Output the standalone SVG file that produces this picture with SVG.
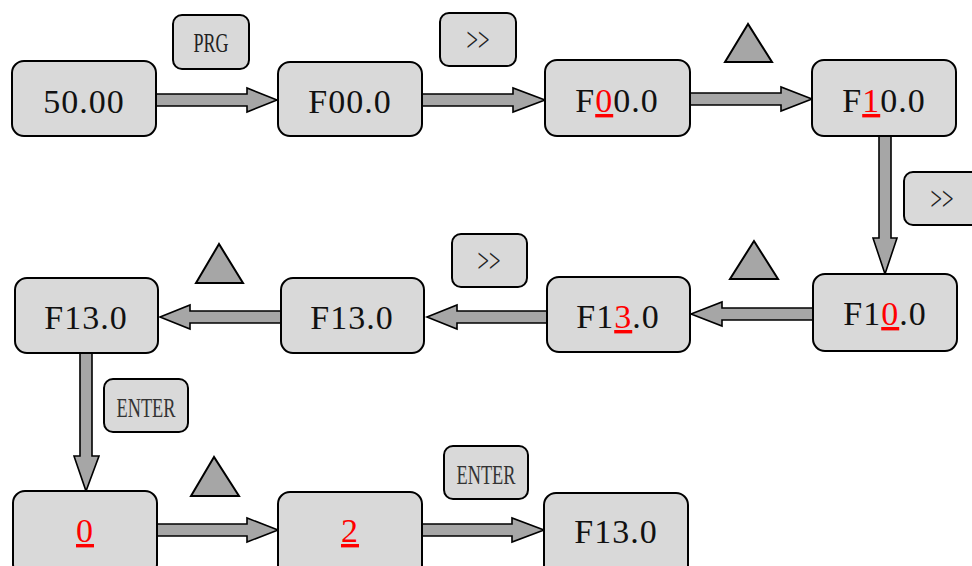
<svg xmlns="http://www.w3.org/2000/svg" width="972" height="566" viewBox="0 0 972 566">
  <style>
    .node rect { fill: #d9d9d9; stroke: #000; stroke-width: 2; }
    .key rect { fill: #d9d9d9; stroke: #000; stroke-width: 2; }
    .val { font-family: "Liberation Serif", "DejaVu Serif", serif; font-size: 34px; letter-spacing: 1px; fill: #111; text-anchor: middle; }
    .hot { fill: #ff0000; text-decoration: underline; }
    .keytxt { font-family: "Liberation Serif", "DejaVu Serif", serif; font-size: 27px; fill: #222; text-anchor: middle; }
    .chev { font-size: 34px; }
    .enter { font-size: 28px; fill: #333; }
    .arrow { fill: #a6a6a6; stroke: #000; stroke-width: 1.6; stroke-linejoin: miter; }
    .up { fill: #a6a6a6; stroke: #000; stroke-width: 2; }
  </style>

  <!-- connectors -->
  <g id="connectors">
    <polygon class="arrow" points="156,94 247,94 247,88 277,100 247,112 247,106 156,106"/>
    <polygon class="arrow" points="422,94 513,94 513,88 545,100 513,112 513,106 422,106"/>
    <polygon class="arrow" points="690,93 781,93 781,87 812,99 781,111 781,105 690,105"/>
    <polygon class="arrow" points="879,136 891,136 891,238 897,238 885,274 873,238 879,238"/>
    <polygon class="arrow" points="813,308 722,308 722,302 691,314 722,326 722,320 813,320"/>
    <polygon class="arrow" points="547,311 457,311 457,305 427,317 457,329 457,323 547,323"/>
    <polygon class="arrow" points="281,311 190,311 190,305 160,317 190,329 190,323 281,323"/>
    <polygon class="arrow" points="80,353 92,353 92,456 99,456 86,491 74,456 80,456"/>
    <polygon class="arrow" points="157,524 247,524 247,518 278,530 247,542 247,536 157,536"/>
    <polygon class="arrow" points="422,524 512,524 512,518 544,530 512,542 512,536 422,536"/>
  </g>

  <!-- key presses -->
  <g id="key-prg" class="key">
    <rect x="173" y="15" width="76" height="54" rx="9"/>
    <text class="keytxt" x="211" y="52" textLength="35" lengthAdjust="spacingAndGlyphs">PRG</text>
  </g>
  <g id="key-shift-1" class="key">
    <rect x="440" y="13" width="76" height="53" rx="9"/>
    <text class="keytxt chev" x="478" y="51" textLength="23" lengthAdjust="spacingAndGlyphs">&gt;&gt;</text>
  </g>
  <g id="key-shift-2" class="key">
    <rect x="904" y="172" width="80" height="53" rx="9"/>
    <text class="keytxt chev" x="942" y="210" textLength="23" lengthAdjust="spacingAndGlyphs">&gt;&gt;</text>
  </g>
  <g id="key-shift-3" class="key">
    <rect x="452" y="234" width="75" height="53" rx="9"/>
    <text class="keytxt chev" x="489" y="272" textLength="23" lengthAdjust="spacingAndGlyphs">&gt;&gt;</text>
  </g>
  <g id="key-enter-1" class="key">
    <rect x="104" y="379" width="84" height="53" rx="9"/>
    <text class="keytxt enter" x="146" y="417" textLength="59" lengthAdjust="spacingAndGlyphs">ENTER</text>
  </g>
  <g id="key-enter-2" class="key">
    <rect x="444" y="446" width="84" height="53" rx="9"/>
    <text class="keytxt enter" x="486" y="484" textLength="59" lengthAdjust="spacingAndGlyphs">ENTER</text>
  </g>

  <!-- up keys -->
  <g id="key-up-1"><polygon class="up" points="748,24 725,62 772,62"/></g>
  <g id="key-up-2"><polygon class="up" points="754,241 730,279 778,279"/></g>
  <g id="key-up-3"><polygon class="up" points="219,244 196,283 243,283"/></g>
  <g id="key-up-4"><polygon class="up" points="214,457 191,496 239,496"/></g>

  <!-- display states -->
  <g id="n-freq" class="node">
    <rect x="12" y="61" width="144" height="75" rx="12"/>
    <text class="val" x="84" y="113">50.00</text>
  </g>
  <g id="n-f000" class="node">
    <rect x="278" y="62" width="144" height="74" rx="12"/>
    <text class="val" x="350" y="113">F00.0</text>
  </g>
  <g id="n-f000-sel" class="node">
    <rect x="545" y="60" width="145" height="76" rx="12"/>
    <text class="val" x="617" y="112">F<tspan class="hot">0</tspan>0.0</text>
  </g>
  <g id="n-f100-sel" class="node">
    <rect x="812" y="60" width="144" height="76" rx="12"/>
    <text class="val" x="884" y="112">F<tspan class="hot">1</tspan>0.0</text>
  </g>
  <g id="n-f100-sel2" class="node">
    <rect x="813" y="274" width="144" height="77" rx="12"/>
    <text class="val" x="885" y="325">F1<tspan class="hot">0</tspan>.0</text>
  </g>
  <g id="n-f130-sel" class="node">
    <rect x="547" y="277" width="143" height="75" rx="12"/>
    <text class="val" x="618" y="328">F1<tspan class="hot">3</tspan>.0</text>
  </g>
  <g id="n-f130-a" class="node">
    <rect x="281" y="278" width="143" height="75" rx="12"/>
    <text class="val" x="352" y="329">F13.0</text>
  </g>
  <g id="n-f130-b" class="node">
    <rect x="15" y="278" width="143" height="75" rx="12"/>
    <text class="val" x="86" y="329">F13.0</text>
  </g>
  <g id="n-val0" class="node">
    <rect x="13" y="491" width="144" height="85" rx="12"/>
    <text class="val" x="85" y="542"><tspan class="hot">0</tspan></text>
  </g>
  <g id="n-val2" class="node">
    <rect x="278" y="492" width="144" height="85" rx="12"/>
    <text class="val" x="350" y="542"><tspan class="hot">2</tspan></text>
  </g>
  <g id="n-f130-c" class="node">
    <rect x="544" y="493" width="144" height="85" rx="12"/>
    <text class="val" x="616" y="543">F13.0</text>
  </g>
</svg>
